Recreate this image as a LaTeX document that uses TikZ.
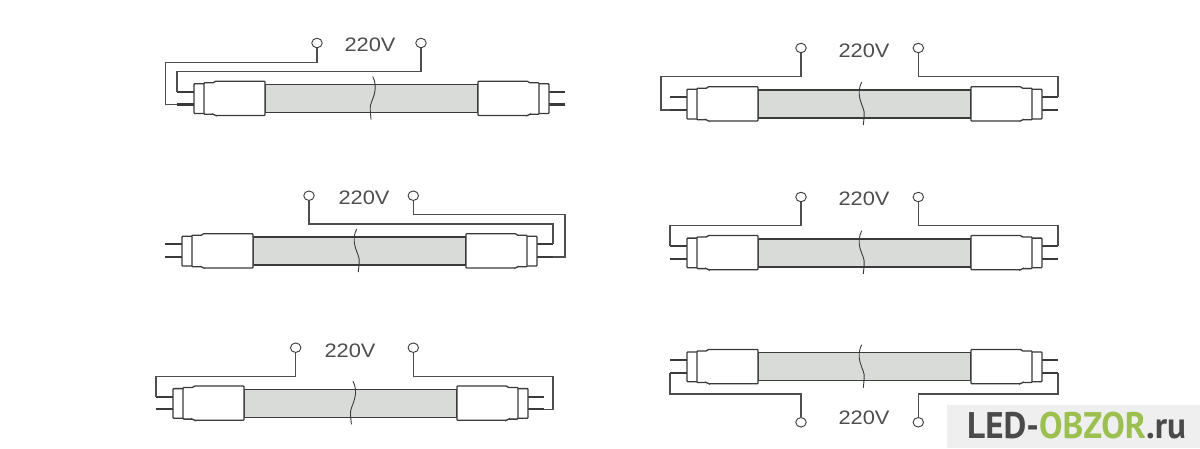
\documentclass[tikz,border=0pt]{standalone}
\usepackage{fontspec}
\setmainfont{Liberation Sans}
\newfontfamily\markfont{PT Sans}
\usetikzlibrary{shapes.geometric}
\definecolor{ink}{HTML}{3A3A3A}
\definecolor{tubefill}{HTML}{D9DBD9}
\definecolor{markbg}{HTML}{EFEFEF}
\definecolor{markdark}{HTML}{4A4A4A}
\definecolor{markgreen}{HTML}{9CC04F}
\tikzset{
  wire/.style={draw=ink!90,line width=1.15pt,line join=miter},
  pin/.style={draw=ink,line width=2.2pt},
  shell/.style={draw=ink,line width=1.3pt,fill=white,rounded corners=0.8pt},
  glass/.style={draw=ink,line width=1.4pt,fill=tubefill},
  breakline/.style={draw=ink,line width=0.9pt},
  terminal/.style={ellipse,draw=ink,line width=0.9pt,fill=white,minimum width=10.5pt,minimum height=9.5pt,inner sep=0pt},
  volt/.style={font=\fontsize{19.5}{20}\selectfont,text=ink!90,inner sep=0pt,xscale=1.12},
}
% name, x of left pin tips, y of tube axis, x of break line, bend direction of break line
\newcommand{\lamp}[5]{%
\begin{scope}[shift={(#2,#3)}]
  \coordinate (#1-lu) at (0,-6.7);
  \coordinate (#1-ll) at (0,6);
  \coordinate (#1-ru) at (388,-6.7);
  \coordinate (#1-rl) at (388,6);
  \draw[pin] (#1-lu) -- (17,-6.7);
  \draw[pin] (#1-ll) -- (17,6);
  \draw[pin] (371,-6.7) -- (#1-ru);
  \draw[pin] (371,6) -- (#1-rl);
  \path[glass] (88,-14) rectangle (301,14);
  \draw[shell] (17,-14.7) rectangle (28,15);
  \draw[shell] (361,-14.7) rectangle (372,15);
  \draw[shell] (27,-15.8) -- (37,-15.8) -- (38,-17.3) -- (88,-17.3) -- (88,17) -- (38,17) -- (37,15.8) -- (27,15.8) -- cycle;
  \draw[shell] (362,-15.8) -- (352,-15.8) -- (351,-17.3) -- (301,-17.3) -- (301,17) -- (351,17) -- (352,15.8) -- (362,15.8) -- cycle;
  \draw[breakline] (#4,-22)
    .. controls ({#4+#5*(-2.5)},-17) and ({#4+#5*(-3.5)},-12) .. ({#4+#5*(-1.5)},-4)
    .. controls ({#4+#5*0.5},3) and ({#4+#5*3},6) .. ({#4+#5*2.5},11)
    .. controls ({#4+#5*2.2},15) and ({#4+#5*2},18) .. ({#4+#5*1.6},21);
\end{scope}}
\begin{document}
\begin{tikzpicture}[x=1pt,y=-1pt]
\useasboundingbox (0,0) rectangle (1200,448);
\fill[white] (0,0) rectangle (1200,448);

\lamp{a}{177}{98.5}{195.7}{-1}
\lamp{b}{670}{104}{191.7}{1}
\lamp{c}{165}{251}{191.7}{1}
\lamp{d}{670}{252.8}{191.7}{1}
\lamp{e}{156}{403.3}{197}{-1}
\lamp{f}{670}{366.7}{191.7}{1}

\node[terminal] (a1) at (317,43) {};
\node[terminal] (a2) at (421,43) {};
\node[volt] (av) at (370,45) {220V};
\draw[wire] (a1) -- (317,62.3) -- (165.3,62.3) -- (165.3,104.5) -- (a-ll);
\draw[wire] (a2) -- (421,71.3) -- (a-lu |- 0,71.3) -- (a-lu);

\node[terminal] (b1) at (801,48) {};
\node[terminal] (b2) at (918.3,48) {};
\node[volt] (bv) at (864,51) {220V};
\draw[wire] (b1) -- (801,76.7) -- (661,76.7) -- (661,110) -- (b-ll);
\draw[wire] (b2) -- (918.3,76.7) -- (b-ru |- 0,76.7) -- (b-ru);

\node[terminal] (c1) at (309,195.7) {};
\node[terminal] (c2) at (413.3,195.7) {};
\node[volt] (cv) at (364,198) {220V};
\draw[wire] (c1) -- (309,224) -- (c-ru |- 0,224) -- (c-ru);
\draw[wire] (c2) -- (413.3,214.3) -- (565,214.3) -- (565,257) -- (c-rl);

\node[terminal] (d1) at (801,197) {};
\node[terminal] (d2) at (918.3,197) {};
\node[volt] (dv) at (864,199) {220V};
\draw[wire] (d1) -- (801,225.3) -- (d-lu |- 0,225.3) -- (d-lu);
\draw[wire] (d2) -- (918.3,225.3) -- (d-ru |- 0,225.3) -- (d-ru);

\node[terminal] (e1) at (295.7,347.7) {};
\node[terminal] (e2) at (413.3,347.7) {};
\node[volt] (ev) at (350,351) {220V};
\draw[wire] (e1) -- (295.7,376.3) -- (e-lu |- 0,376.3) -- (e-lu);
\draw[wire] (e2) -- (413.3,376.3) -- (553,376.3) -- (553,409.3) -- (e-rl);

\node[terminal] (f1) at (801,422.3) {};
\node[terminal] (f2) at (918.3,422.3) {};
\node[volt] (fv) at (864,418) {220V};
\draw[wire] (f1) -- (801,394) -- (f-ll |- 0,394) -- (f-ll);
\draw[wire] (f2) -- (918.3,394) -- (f-rl |- 0,394) -- (f-rl);

\fill[markbg] (947,405) rectangle (1200,448);
\node[anchor=base west,inner sep=0pt,xscale=0.95,font=\markfont\bfseries\fontsize{37}{37}\selectfont,text=markdark] (mark) at (967,438)
  {LED-\textcolor{markgreen}{OBZOR}.ru};
\end{tikzpicture}
\end{document}
